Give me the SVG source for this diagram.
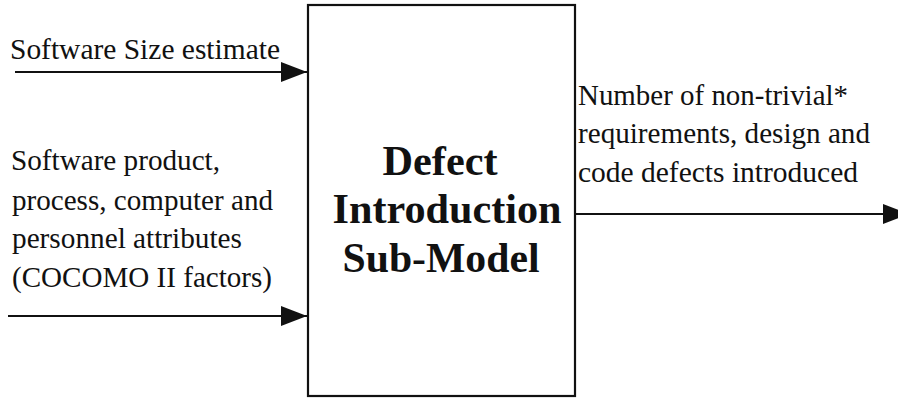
<svg xmlns="http://www.w3.org/2000/svg" width="898" height="398" viewBox="0 0 898 398">
  <style>
    .lbl { font-family: 'Liberation Serif', serif; font-size: 29.5px; fill: #111; }
    .title { font-family: 'Liberation Serif', serif; font-size: 42px; font-weight: bold; fill: #111; text-anchor: middle; }
    .edge { stroke: #111; stroke-width: 2.2; fill: none; }
    .box { stroke: #111; stroke-width: 2.2; fill: #fff; }
  </style>
  <defs>
    <marker id="arrow" markerUnits="userSpaceOnUse" markerWidth="28" markerHeight="22" refX="26" refY="10" orient="auto">
      <path d="M0,0 L26,10 L0,20 z" fill="#111"/>
    </marker>
  </defs>
  <rect width="898" height="398" fill="#fff"/>

  <g id="submodel">
    <rect class="box" x="308" y="5" width="267" height="391"/>
    <text class="title" x="440" y="175" textLength="115" lengthAdjust="spacingAndGlyphs">Defect</text>
    <text class="title" x="447" y="223" textLength="229" lengthAdjust="spacingAndGlyphs">Introduction</text>
    <text class="title" x="441" y="272" textLength="197" lengthAdjust="spacingAndGlyphs">Sub-Model</text>
  </g>

  <g id="input-size">
    <text class="lbl" x="10" y="59" textLength="270" lengthAdjust="spacingAndGlyphs">Software Size estimate</text>
  </g>

  <g id="input-attributes">
    <text class="lbl" x="11" y="170" textLength="209" lengthAdjust="spacingAndGlyphs">Software product,</text>
    <text class="lbl" x="12" y="210" textLength="261" lengthAdjust="spacingAndGlyphs">process, computer and</text>
    <text class="lbl" x="12" y="248" textLength="230" lengthAdjust="spacingAndGlyphs">personnel attributes</text>
    <text class="lbl" x="12" y="287" textLength="260" lengthAdjust="spacingAndGlyphs">(COCOMO II factors)</text>
  </g>

  <g id="output-defects">
    <text class="lbl" x="578" y="105" textLength="270" lengthAdjust="spacingAndGlyphs">Number of non-trivial*</text>
    <text class="lbl" x="578" y="143" textLength="292" lengthAdjust="spacingAndGlyphs">requirements, design and</text>
    <text class="lbl" x="578" y="182" textLength="280" lengthAdjust="spacingAndGlyphs">code defects introduced</text>
  </g>

  <g id="connectors">
    <line class="edge" x1="15" y1="72" x2="307" y2="72" marker-end="url(#arrow)"/>
    <line class="edge" x1="8" y1="316" x2="307" y2="316" marker-end="url(#arrow)"/>
    <line class="edge" x1="576" y1="214" x2="909" y2="214" marker-end="url(#arrow)"/>
  </g>
</svg>
